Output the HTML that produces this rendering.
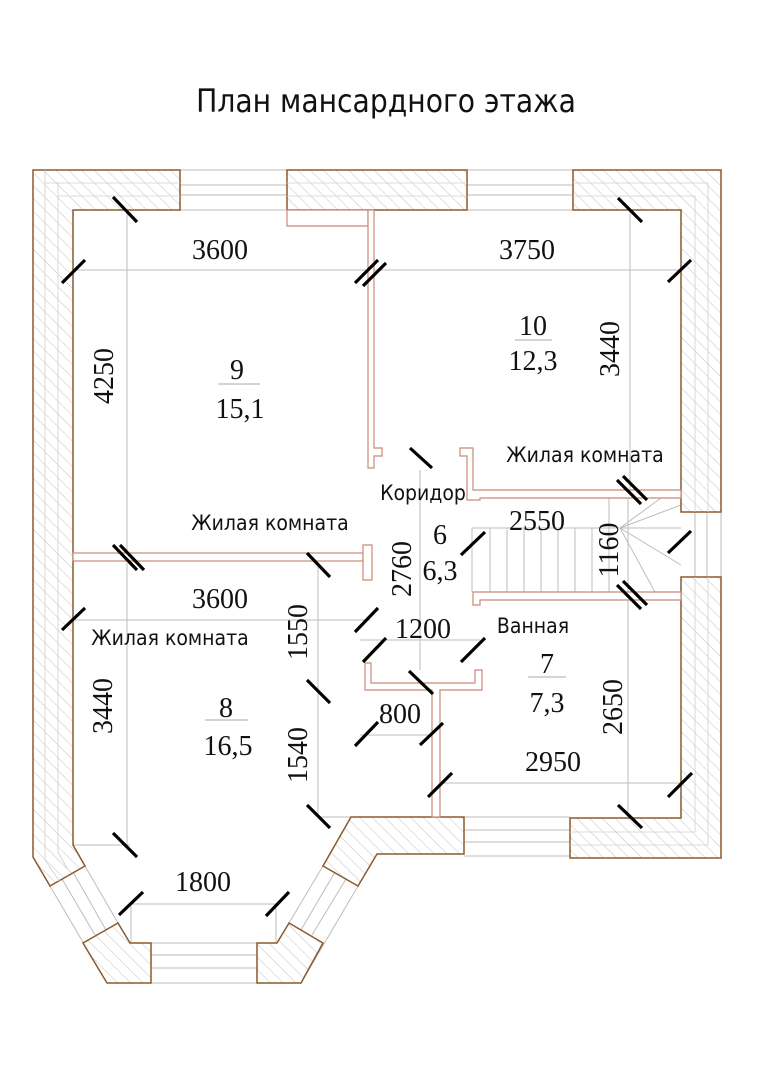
<!DOCTYPE html>
<html><head><meta charset="utf-8"><style>
html,body{margin:0;padding:0;background:#fff;}
svg{display:block;}
.n{font-family:"Liberation Serif",serif;font-size:28px;fill:#111;}
.t{font-family:"DejaVu Sans Condensed","DejaVu Sans","Noto Sans CJK SC",sans-serif;font-size:21px;fill:#111;font-weight:200;}
</style></head><body>
<svg width="764" height="1080" viewBox="0 0 764 1080" xmlns="http://www.w3.org/2000/svg">
<defs>
<pattern id="h" width="9" height="9" patternUnits="userSpaceOnUse" patternTransform="rotate(-45)">
<rect width="9" height="9" fill="#fff"/><line x1="0" y1="0" x2="0" y2="9" stroke="#bdbdbd" stroke-width="0.9"/>
</pattern>
</defs>
<text x="386" y="112" text-anchor="middle" class="t" style="font-size:32px" transform="translate(386,0) scale(0.98,1) translate(-386,0)">План мансардного этажа</text>

<g stroke="#bdbdbd" stroke-width="1" fill="none">
<line x1="73" y1="270" x2="681" y2="270"/>
<line x1="127" y1="210" x2="127" y2="553"/>
<line x1="630" y1="210" x2="630" y2="490"/>
<line x1="73" y1="620" x2="370" y2="620"/>
<line x1="127" y1="563" x2="127" y2="845"/>
<line x1="318" y1="563" x2="318" y2="817"/>
<line x1="73" y1="845" x2="130" y2="845"/>
<line x1="318" y1="817" x2="351" y2="817"/>
<line x1="360" y1="640" x2="480" y2="640"/>
<line x1="420" y1="470" x2="420" y2="670"/>
<line x1="360" y1="735" x2="440" y2="735"/>
<line x1="472" y1="528" x2="681" y2="528"/>
<line x1="628" y1="498" x2="628" y2="817"/>
<line x1="438" y1="783" x2="681" y2="783"/>
<line x1="131" y1="904" x2="276" y2="904"/>
<line x1="131" y1="904" x2="131" y2="943"/><line x1="276" y1="904" x2="276" y2="943"/>
<line x1="180" y1="185" x2="287" y2="185"/><line x1="180" y1="195" x2="287" y2="195"/><line x1="180" y1="170" x2="287" y2="170"/><line x1="180" y1="210" x2="287" y2="210"/>
<line x1="467" y1="185" x2="573" y2="185"/><line x1="467" y1="195" x2="573" y2="195"/><line x1="467" y1="170" x2="573" y2="170"/><line x1="467" y1="210" x2="573" y2="210"/>
<line x1="695" y1="512" x2="695" y2="577"/><line x1="707" y1="512" x2="707" y2="577"/><line x1="721" y1="512" x2="721" y2="577"/>
<line x1="464" y1="830" x2="570" y2="830"/><line x1="464" y1="842" x2="570" y2="842"/><line x1="464" y1="817" x2="570" y2="817"/><line x1="464" y1="856" x2="570" y2="856"/>
<line x1="151" y1="955" x2="257" y2="955"/><line x1="151" y1="968" x2="257" y2="968"/><line x1="151" y1="943" x2="257" y2="943"/><line x1="151" y1="983" x2="257" y2="983"/>
<line x1="50" y1="886" x2="107" y2="983"/><line x1="62" y1="879" x2="95" y2="935"/><line x1="73" y1="872" x2="106" y2="930"/><line x1="85" y1="866" x2="118" y2="923"/>
<line x1="358" y1="886" x2="301" y2="983"/><line x1="346" y1="879" x2="312" y2="935"/><line x1="335" y1="872" x2="301" y2="930"/><line x1="323" y1="866" x2="289" y2="923"/>
<line x1="472" y1="528" x2="472" y2="592"/>
<line x1="490" y1="528" x2="490" y2="592"/><line x1="507" y1="528" x2="507" y2="592"/><line x1="524" y1="528" x2="524" y2="592"/><line x1="541" y1="528" x2="541" y2="592"/><line x1="558" y1="528" x2="558" y2="592"/><line x1="575" y1="528" x2="575" y2="592"/><line x1="592" y1="528" x2="592" y2="592"/><line x1="609" y1="498" x2="609" y2="592"/>
<line x1="620" y1="528" x2="661" y2="498"/><line x1="620" y1="528" x2="681" y2="505"/><line x1="620" y1="528" x2="681" y2="528"/><line x1="620" y1="528" x2="681" y2="565"/><line x1="620" y1="528" x2="655" y2="592"/>
</g>

<g fill="url(#h)" stroke="#8a5a2b" stroke-width="1.5">
<polygon points="33,170 180,170 180,210 73,210 73,845 85,866 50,886 33,857"/>
<rect x="287" y="170" width="180" height="40"/>
<polygon points="573,170 721,170 721,512 681,512 681,210 573,210"/>
<polygon points="681,577 721,577 721,858 570,858 570,818 681,818"/>
<polygon points="351,817 464,817 464,854 377,854 358,886 323,866"/>
<polygon points="83,943 118,923 130,943 151,943 151,983 107,983"/>
<polygon points="257,943 277,943 289,923 323,943 301,983 257,983"/>
</g>
<g fill="none" stroke="#d0d0d0" stroke-width="0.8">
<polyline points="45,170 45,860 60,882"/><polyline points="58,182 58,852 68,870"/>
<line x1="45" y1="183" x2="180" y2="183"/><line x1="58" y1="196" x2="180" y2="196"/>
<line x1="287" y1="183" x2="467" y2="183"/><line x1="287" y1="196" x2="467" y2="196"/>
<polyline points="573,183 708,183 708,512"/><polyline points="573,196 695,196 695,512"/>
<polyline points="708,577 708,845 570,845"/><polyline points="695,577 695,832 570,832"/>
</g>

<g fill="#fff" stroke="#c98a76" stroke-width="1.2">
<polygon points="287,210 368,210 368,226 287,226"/>
<polygon points="368,210 374,210 374,448 382,448 382,456 374,456 374,468 368,468"/>
<rect x="73" y="553" width="290" height="8"/>
<polygon points="363,545 372,545 372,580 363,580"/>
<polygon points="460,448 473,448 473,490 681,490 681,498 480,498 480,500 467,500 467,456 460,456"/>
<polygon points="473,592 681,592 681,600 480,600 480,605 473,605"/>
<polygon points="365,663 371,663 371,683 475,683 475,670 482,670 482,690 440,690 440,817 432,817 432,690 365,690"/>
</g>

<g stroke="#000" stroke-width="3.2" stroke-linecap="butt">
<line x1="113" y1="197" x2="137" y2="222"/><line x1="62" y1="283" x2="85" y2="260"/>
<line x1="355" y1="283" x2="378" y2="260"/><line x1="363" y1="286" x2="386" y2="263"/>
<line x1="618" y1="198" x2="642" y2="222"/><line x1="668" y1="282" x2="691" y2="260"/>
<line x1="410" y1="448" x2="432" y2="468"/>
<line x1="617" y1="480" x2="641" y2="504"/><line x1="623" y1="476" x2="647" y2="500"/>
<line x1="668" y1="553" x2="691" y2="531"/>
<line x1="617" y1="585" x2="641" y2="609"/><line x1="623" y1="581" x2="647" y2="605"/>
<line x1="461" y1="555" x2="485" y2="532"/>
<line x1="355" y1="632" x2="378" y2="608"/><line x1="363" y1="662" x2="386" y2="638"/>
<line x1="461" y1="662" x2="485" y2="638"/><line x1="409" y1="671" x2="433" y2="694"/>
<line x1="355" y1="746" x2="378" y2="722"/><line x1="420" y1="745" x2="443" y2="723"/>
<line x1="428" y1="797" x2="452" y2="773"/><line x1="668" y1="797" x2="692" y2="773"/>
<line x1="618" y1="805" x2="642" y2="828"/>
<line x1="113" y1="545" x2="137" y2="570"/><line x1="120" y1="545" x2="144" y2="570"/>
<line x1="307" y1="553" x2="330" y2="577"/><line x1="62" y1="630" x2="85" y2="608"/>
<line x1="307" y1="680" x2="330" y2="703"/><line x1="307" y1="805" x2="330" y2="828"/>
<line x1="113" y1="833" x2="137" y2="857"/><line x1="119" y1="915" x2="143" y2="892"/>
<line x1="266" y1="916" x2="289" y2="892"/>
</g>

<g class="n">
<text x="220" y="259" text-anchor="middle">3600</text>
<text x="527" y="259" text-anchor="middle">3750</text>
<text transform="translate(113,376) rotate(-90)" text-anchor="middle">4250</text>
<text transform="translate(619,349) rotate(-90)" text-anchor="middle">3440</text>
<text x="237" y="379" text-anchor="middle">9</text>
<text x="240" y="418" text-anchor="middle">15,1</text>
<text x="533" y="335" text-anchor="middle">10</text>
<text x="533" y="370" text-anchor="middle">12,3</text>
<text x="440" y="544" text-anchor="middle">6</text>
<text x="440" y="580" text-anchor="middle">6,3</text>
<text x="537" y="530" text-anchor="middle">2550</text>
<text transform="translate(618,550) rotate(-90)" text-anchor="middle">1160</text>
<text transform="translate(411,569) rotate(-90)" text-anchor="middle">2760</text>
<text x="220" y="608" text-anchor="middle">3600</text>
<text transform="translate(307,632) rotate(-90)" text-anchor="middle">1550</text>
<text x="423" y="638" text-anchor="middle">1200</text>
<text x="547" y="673" text-anchor="middle">7</text>
<text x="547" y="712" text-anchor="middle">7,3</text>
<text transform="translate(112,706) rotate(-90)" text-anchor="middle">3440</text>
<text x="226" y="717" text-anchor="middle">8</text>
<text x="228" y="755" text-anchor="middle">16,5</text>
<text x="400" y="723" text-anchor="middle">800</text>
<text transform="translate(307,755) rotate(-90)" text-anchor="middle">1540</text>
<text transform="translate(622,707) rotate(-90)" text-anchor="middle">2650</text>
<text x="553" y="771" text-anchor="middle">2950</text>
<text x="203" y="891" text-anchor="middle">1800</text>
</g>
<g stroke="#aaa" stroke-width="1">
<line x1="218" y1="384" x2="260" y2="384"/><line x1="515" y1="340" x2="552" y2="340"/>
<line x1="205" y1="720" x2="248" y2="720"/><line x1="528" y1="677" x2="566" y2="677"/>
</g>
<g class="t">
<text x="270" y="530" text-anchor="middle">Жилая комната</text>
<text x="585" y="462" text-anchor="middle">Жилая комната</text>
<text x="170" y="645" text-anchor="middle">Жилая комната</text>
<text x="423" y="500" text-anchor="middle">Коридор</text>
<text x="533" y="633" text-anchor="middle">Ванная</text>
</g>
</svg>
</body></html>
